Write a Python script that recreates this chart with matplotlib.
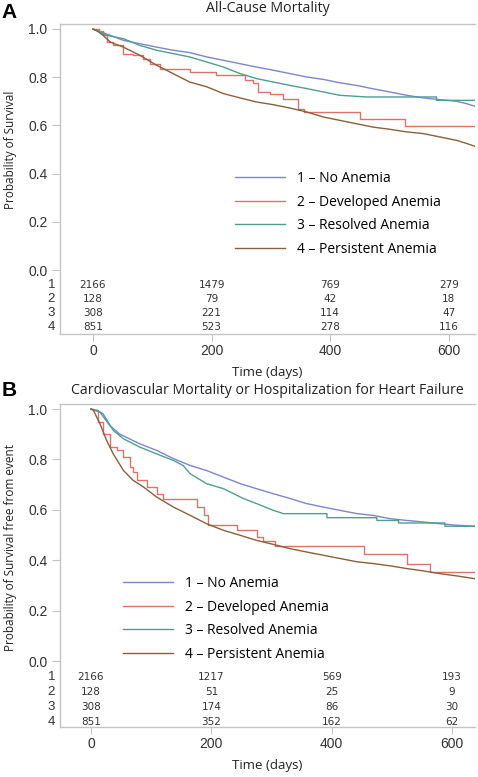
import matplotlib.pyplot as plt
from matplotlib.lines import Line2D

# ---- data ----
groups = ['1 – No Anemia', '2 – Developed Anemia', '3 – Resolved Anemia', '4 – Persistent Anemia']
colors = ['#7d86c9', '#d9736b', '#4f9e90', '#8a5f3e']
# big groups have so many small steps they read as a line; developed anemia is a clear step curve
styles = ['default', 'steps-post', 'default', 'default']
risk_times = [0, 200, 400, 600]

# panel A: all-cause mortality
a_no_t = [0, 6, 29, 51, 79, 107, 135, 163, 192, 220, 248, 276, 304, 332, 360, 388, 416, 444,
          472, 500, 529, 557, 585, 613, 630, 643]
a_no_s = [1.0, 0.995, 0.974, 0.953, 0.939, 0.925, 0.912, 0.902, 0.884, 0.870, 0.856, 0.842,
          0.829, 0.815, 0.801, 0.791, 0.777, 0.766, 0.752, 0.739, 0.725, 0.714, 0.707, 0.700,
          0.690, 0.680]
a_dev_t = [0, 10, 17, 23, 34, 51, 68, 85, 96, 113, 163, 208, 256, 270, 279, 298, 321, 346,
           355, 450, 526, 643]
a_dev_s = [1.0, 0.99, 0.974, 0.946, 0.932, 0.898, 0.891, 0.877, 0.856, 0.836, 0.822, 0.808,
           0.787, 0.774, 0.739, 0.732, 0.711, 0.670, 0.656, 0.628, 0.598, 0.598]
a_res_t = [0, 10, 23, 51, 79, 107, 135, 163, 192, 220, 248, 276, 304, 332, 360, 388, 416,
           461, 579, 579, 643]
a_res_s = [1.0, 0.99, 0.974, 0.960, 0.932, 0.912, 0.898, 0.884, 0.863, 0.842, 0.815, 0.794,
           0.780, 0.766, 0.753, 0.739, 0.725, 0.718, 0.718, 0.704, 0.704]
a_per_t = [0, 8, 17, 29, 51, 79, 107, 135, 163, 192, 220, 248, 276, 304, 332, 360, 388, 416,
           444, 472, 500, 529, 557, 585, 613, 630, 643]
a_per_s = [1.0, 0.99, 0.974, 0.946, 0.925, 0.891, 0.850, 0.815, 0.780, 0.760, 0.732, 0.714,
           0.697, 0.686, 0.672, 0.656, 0.635, 0.621, 0.607, 0.593, 0.584, 0.573, 0.566, 0.552,
           0.538, 0.525, 0.514]
a_risk = [[2166, 1479, 769, 279], [128, 79, 42, 18], [308, 221, 114, 47], [851, 523, 278, 116]]

# panel B: CV mortality or HF hospitalization
b_no_t = [0, 6, 15, 31, 48, 81, 109, 137, 165, 192, 220, 248, 275, 303, 331, 358, 386, 414,
          442, 469, 497, 525, 552, 580, 608, 638]
b_no_s = [1.0, 0.995, 0.987, 0.935, 0.900, 0.862, 0.836, 0.803, 0.776, 0.756, 0.730, 0.704,
          0.684, 0.664, 0.645, 0.625, 0.611, 0.598, 0.585, 0.578, 0.565, 0.558, 0.552, 0.545,
          0.539, 0.535]
b_dev_t = [0, 4, 12, 20, 31, 43, 54, 65, 70, 76, 93, 109, 120, 176, 187, 195, 242, 275, 286,
           306, 453, 525, 563, 638]
b_dev_s = [1.0, 0.995, 0.95, 0.90, 0.849, 0.836, 0.810, 0.770, 0.750, 0.717, 0.691, 0.664,
           0.645, 0.611, 0.578, 0.539, 0.519, 0.493, 0.475, 0.455, 0.424, 0.387, 0.354, 0.354]
b_res_t = [0, 10, 20, 37, 54, 81, 109, 137, 153, 165, 192, 220, 237, 253, 275, 303, 320, 392,
           392, 475, 475, 511, 511, 588, 588, 638]
b_res_s = [1.0, 0.995, 0.981, 0.915, 0.882, 0.849, 0.822, 0.796, 0.776, 0.743, 0.704, 0.684,
           0.664, 0.645, 0.625, 0.598, 0.585, 0.585, 0.569, 0.569, 0.558, 0.558, 0.548, 0.548,
           0.535, 0.535]
b_per_t = [0, 4, 15, 26, 37, 54, 70, 87, 109, 137, 165, 192, 220, 248, 275, 303, 331, 358,
           386, 414, 442, 469, 497, 525, 552, 580, 608, 638]
b_per_s = [1.0, 0.995, 0.941, 0.875, 0.822, 0.756, 0.717, 0.691, 0.651, 0.611, 0.578, 0.545,
           0.519, 0.499, 0.479, 0.463, 0.446, 0.433, 0.420, 0.407, 0.394, 0.387, 0.378, 0.367,
           0.358, 0.347, 0.338, 0.327]
b_risk = [[2166, 1217, 569, 193], [128, 51, 25, 9], [308, 174, 86, 30], [851, 352, 162, 62]]

TXT = 'Open Sans'
NUM = 'Liberation Sans'
SPINE = '#c4c4c4'

fig = plt.figure(figsize=(4.78, 7.77), dpi=100)


def panel(rect, curves, risk, title, ylabel, xlim, ylim, ylab_y, leg_anchor, risk_rows, tpad):
    ax = fig.add_axes(rect)
    for (t, s), c, ds in zip(curves, colors, styles):
        ax.plot(t, s, drawstyle=ds, color=c, lw=1.0)
    ax.set_xlim(*xlim)
    ax.set_ylim(*ylim)
    ax.set_yticks([0, 0.2, 0.4, 0.6, 0.8, 1.0])
    ax.set_yticklabels(['0.0', '0.2', '0.4', '0.6', '0.8', '1.0'], family=NUM, fontsize=10, color='#333333')
    ax.set_xticks(risk_times)
    ax.set_xticklabels([str(v) for v in risk_times], family=NUM, fontsize=10, color='#333333')
    ax.tick_params(axis='y', length=6, color=SPINE, pad=3)
    ax.tick_params(axis='x', length=5, color=SPINE, pad=2)
    ax.spines['right'].set_visible(False)
    for sp in ['left', 'bottom', 'top']:
        ax.spines[sp].set_color(SPINE)
        ax.spines[sp].set_linewidth(1.0)
    ax.set_title(title, family=TXT, fontsize=10.2, color='#222222', pad=tpad)
    ax.set_xlabel('Time (days)', family=TXT, fontsize=9.5, color='#222222', labelpad=6)
    ax.set_ylabel(ylabel, family=TXT, fontsize=8.5, color='#222222')
    ax.yaxis.set_label_coords(-0.104, ylab_y)

    # numbers at risk inside the axes below 0
    for i, row in enumerate(risk):
        ax.text(-0.012, risk_rows[i], str(i + 1), transform=ax.get_yaxis_transform(),
                ha='right', va='center', family=NUM, fontsize=9.5, color='#333333')
        for tx, n in zip(risk_times, row):
            ax.text(tx, risk_rows[i], str(n), ha='center', va='center',
                    family='DejaVu Sans', fontsize=7.5, color='#333333')

    handles = [Line2D([], [], color=c, lw=1.0) for c in colors]
    ax.legend(handles, groups, loc='upper left', bbox_to_anchor=leg_anchor, frameon=False,
              prop={'family': TXT, 'size': 10}, handlelength=3.6, handletextpad=0.85,
              labelspacing=0.62, borderpad=0, borderaxespad=0)
    return ax


panel([0.1255, 0.5701, 0.8682, 0.399],
      [(a_no_t, a_no_s), (a_dev_t, a_dev_s), (a_res_t, a_res_s), (a_per_t, a_per_s)],
      a_risk, 'All-Cause Mortality', 'Probability of Survival',
      (-55.6, 644), (-0.2656, 1.0207), 0.594, (0.4217, 0.526),
      [-0.062, -0.12, -0.178, -0.237], 9)

panel([0.1255, 0.0644, 0.8682, 0.4157],
      [(b_no_t, b_no_s), (b_dev_t, b_dev_s), (b_res_t, b_res_s), (b_per_t, b_per_s)],
      b_risk, 'Cardiovascular Mortality or Hospitalization for Heart Failure',
      'Probability of Survival free from event',
      (-51.5, 638), (-0.261, 1.02), 0.557, (0.152, 0.467),
      [-0.063, -0.123, -0.182, -0.242], 7)

fig.text(0.004, 1 - 12 / 777, 'A', family=NUM, fontweight='bold', fontsize=15, va='center', ha='left')
fig.text(0.004, 1 - 391 / 777, 'B', family=NUM, fontweight='bold', fontsize=15, va='center', ha='left')

fig.savefig('out.png', dpi=100)
